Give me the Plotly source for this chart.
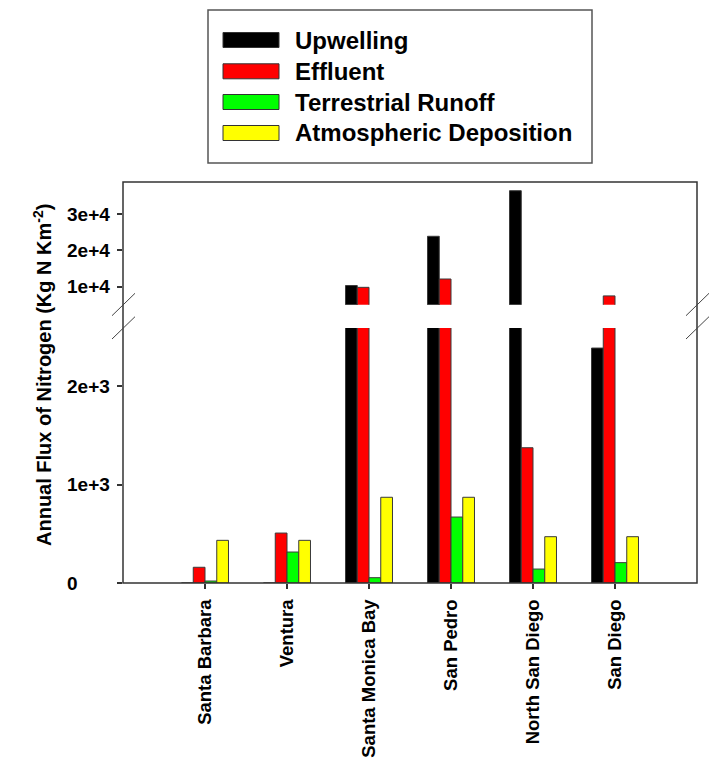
import plotly.graph_objects as go

# ---------------- data ----------------
regions = ["Santa Barbara", "Ventura", "Santa Monica Bay", "San Pedro",
           "North San Diego", "San Diego"]
upwelling = [0, 0, 10300, 23900, 36500, 2390]
effluent = [160, 508, 9800, 12100, 1376, 7430]
runoff = [20, 315, 54, 671, 142, 207]
atmospheric = [434, 434, 872, 872, 471, 471]

series_names = ["Upwelling", "Effluent", "Terrestrial Runoff", "Atmospheric Deposition"]
series_values = [upwelling, effluent, runoff, atmospheric]
series_colors = ["#000000", "#ff0000", "#00ff00", "#ffff00"]

lower_ticks = [0, 1000, 2000]
lower_labels = ["0", "1e+3", "2e+3"]
upper_ticks = [10000, 20000, 30000]
upper_labels = ["1e+4", "2e+4", "3e+4"]

lower_range = [0, 2594]
upper_range = [5000, 38900]

# ---------------- layout geometry (pixels) ----------------
W, H = 713, 760
PL, PR, PT, PB = 123, 697, 182, 583  # plot area edges
LOW_TOP = 328
UP_BOT = 304.7


def px(x):
    return (x - PL) / (PR - PL)


def py(y):
    return (PB - y) / (PB - PT)


FONT = "Liberation Sans, Arial, Helvetica, sans-serif"
AXC = "#333333"

fig = go.Figure()
for name, vals, col in zip(series_names, series_values, series_colors):
    for yax in ("y", "y2"):
        fig.add_trace(go.Bar(
            x=regions, y=vals, name=name, yaxis=yax, xaxis="x",
            marker=dict(color=col, line=dict(color="#3a3a3a", width=1)),
            showlegend=False, hoverinfo="x+y+name",
        ))

fig.update_layout(
    width=W, height=H,
    margin=dict(l=PL, r=W - PR, t=PT, b=H - PB, autoexpand=False),
    paper_bgcolor="white", plot_bgcolor="white",
    barmode="group", bargap=0.427, bargroupgap=0.0,
    font=dict(family=FONT, color="black"),
    xaxis=dict(
        type="category", categoryorder="array", categoryarray=regions,
        range=[-1, 6], showgrid=False, zeroline=False, showline=False,
        ticks="outside", ticklen=5, tickcolor=AXC, tickwidth=1.5,
        tickangle=-90, tickfont=dict(family=FONT, size=18.5, weight="bold", color="black"),
        ticklabelstandoff=3, automargin=False,
        anchor="y",
    ),
    yaxis=dict(
        domain=[0, py(LOW_TOP)], range=lower_range, showgrid=False, zeroline=False,
        showline=False, ticks="outside", ticklen=5, tickcolor=AXC, tickwidth=1.5,
        tickvals=lower_ticks, showticklabels=False, automargin=False,
    ),
    yaxis2=dict(
        domain=[py(UP_BOT), 1], range=upper_range, showgrid=False, zeroline=False,
        showline=False, ticks="outside", ticklen=5, tickcolor=AXC, tickwidth=1.5,
        tickvals=upper_ticks, showticklabels=False, anchor="x", automargin=False,
    ),
)

shapes = []
annotations = []

# frame
shapes.append(dict(type="rect", xref="paper", yref="paper", x0=0, x1=1, y0=0, y1=1,
                   line=dict(color=AXC, width=1.5), fillcolor="rgba(0,0,0,0)", layer="above"))

# break marks
for xc in (PL, PR):
    for (ya, yb) in ((315.7, 293.3), (339.0, 316.7)):
        shapes.append(dict(type="line", xref="paper", yref="paper",
                           x0=px(xc - 11), y0=py(ya), x1=px(xc + 12), y1=py(yb),
                           line=dict(color="#444444", width=1)))

# y tick labels (left aligned, like the original)
for v, t in zip(lower_ticks, lower_labels):
    annotations.append(dict(xref="paper", yref="y", x=px(65), y=v, text=t,
                            xanchor="left", yanchor="middle", showarrow=False,
                            font=dict(family=FONT, size=19, weight="bold", color="black")))
for v, t in zip(upper_ticks, upper_labels):
    annotations.append(dict(xref="paper", yref="y2", x=px(65), y=v, text=t,
                            xanchor="left", yanchor="middle", showarrow=False,
                            font=dict(family=FONT, size=19, weight="bold", color="black")))

# y axis title
annotations.append(dict(xref="paper", yref="paper", x=px(42), y=py(375),
                        text="Annual Flux of Nitrogen (Kg N Km<sup>-2</sup>)",
                        textangle=-90, showarrow=False, xanchor="center", yanchor="middle",
                        font=dict(family=FONT, size=20, weight="bold", color="black")))

# legend box
shapes.append(dict(type="rect", xref="paper", yref="paper",
                   x0=px(208), x1=px(592), y0=py(163), y1=py(10),
                   line=dict(color="#555555", width=1.5), fillcolor="white"))
row_y = [40, 71.3, 102, 133]
for name, col, yc in zip(series_names, series_colors, row_y):
    shapes.append(dict(type="rect", xref="paper", yref="paper",
                       x0=px(223), x1=px(279), y0=py(yc + 7.5), y1=py(yc - 7.5),
                       line=dict(color="#333333", width=1), fillcolor=col))
    annotations.append(dict(xref="paper", yref="paper", x=px(293), y=py(yc),
                            text=name, xanchor="left", yanchor="middle", showarrow=False,
                            font=dict(family=FONT, size=24, weight="bold", color="black")))

fig.update_layout(shapes=shapes, annotations=annotations)

fig.write_html("out.html")
